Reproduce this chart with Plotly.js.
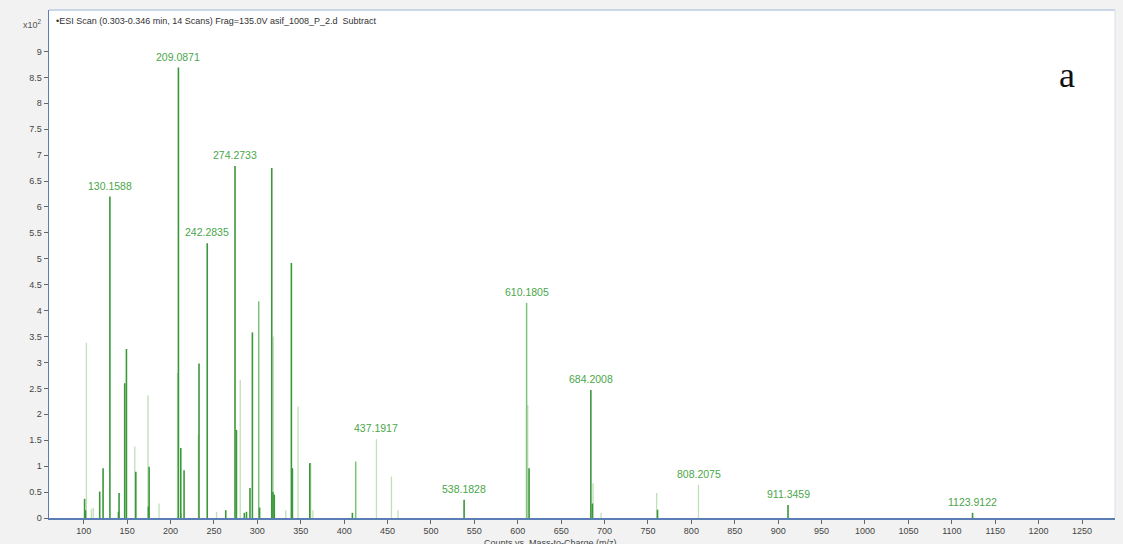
<!DOCTYPE html>
<html>
<head>
<meta charset="utf-8">
<script src="https://cdn.plot.ly/plotly-3.0.1.min.js"></script>
<style>
html,body{margin:0;padding:0;background:#f2f2f2;}
#chart{width:1123px;height:544px;}
</style>
</head>
<body>
<div id="chart"></div>
<script>
// Dark (main) peaks: m/z and intensity (x10^2 counts)
const darkMz  = [101.0, 102.0, 118.4, 122.3, 130.1588, 140.0, 140.7, 147.2, 149.2, 160.0, 175.3, 174.5, 209.0871, 211.8, 215.6, 232.8, 242.2835, 263.6, 274.2733, 275.9, 285.0, 287.5, 291.5, 294.3, 302.6, 316.6, 318.0, 319.5, 339.2, 340.4, 360.4, 409.5, 538.1828, 613.0, 684.2008, 686.0, 761.0, 911.3459, 1123.9122];
const darkInt = [0.37, 0.15, 0.51, 0.96, 6.20, 0.12, 0.48, 2.60, 3.26, 0.89, 0.99, 0.22, 8.69, 1.35, 0.92, 2.98, 5.30, 0.15, 6.79, 1.70, 0.10, 0.12, 0.58, 3.58, 0.20, 6.75, 0.50, 0.45, 4.92, 0.96, 1.06, 0.10, 0.35, 0.96, 2.47, 0.28, 0.16, 0.25, 0.10];

// Medium peaks
const midMz  = [301.6, 413.3, 610.1805];
const midInt = [4.18, 1.09, 4.15];

// Light (faint) peaks
const lightMz  = [103.1, 108.8, 111.0, 158.8, 174.0, 186.8, 208.0, 212.5, 232.0, 253.0, 280.3, 318.4, 332.7, 346.9, 361.5, 364.0, 437.1917, 454.5, 462.0, 611.5, 686.7, 696.0, 760.0, 808.2075];
const lightInt = [3.38, 0.17, 0.20, 1.38, 2.37, 0.28, 2.80, 0.10, 1.60, 0.12, 2.66, 3.50, 0.15, 2.15, 1.06, 0.15, 1.52, 0.80, 0.15, 2.18, 0.67, 0.10, 0.48, 0.64];

// Labelled peaks
const labelMz   = [130.1588, 209.0871, 242.2835, 274.2733, 437.1917, 538.1828, 610.1805, 684.2008, 808.2075, 911.3459, 1123.9122];
const labelInt  = [6.20, 8.69, 5.30, 6.79, 1.52, 0.35, 4.15, 2.47, 0.64, 0.25, 0.10];
const labelText = ["130.1588", "209.0871", "242.2835", "274.2733", "437.1917", "538.1828", "610.1805", "684.2008", "808.2075", "911.3459", "1123.9122"];

const xTicks = [100,150,200,250,300,350,400,450,500,550,600,650,700,750,800,850,900,950,1000,1050,1100,1150,1200,1250];
const yTicks = [0,0.5,1,1.5,2,2.5,3,3.5,4,4.5,5,5.5,6,6.5,7,7.5,8,8.5,9];
const yTickText = ["0","0.5","1","1.5","2","2.5","3","3.5","4","4.5","5","5.5","6","6.5","7","7.5","8","8.5","9"];

function sticks(mz, inten) {
  const xs = [], ys = [];
  for (let i = 0; i < mz.length; i++) {
    xs.push(mz[i], mz[i], null);
    ys.push(0, inten[i], null);
  }
  return {xs, ys};
}

const L = sticks(lightMz, lightInt);
const M = sticks(midMz, midInt);
const D = sticks(darkMz, darkInt);

const traces = [
  {type:'scatter', mode:'lines', x:L.xs, y:L.ys, line:{color:'#bfe0b8', width:1.3}, hoverinfo:'skip'},
  {type:'scatter', mode:'lines', x:M.xs, y:M.ys, line:{color:'#7cc27a', width:1.5}, hoverinfo:'skip'},
  {type:'scatter', mode:'lines', x:D.xs, y:D.ys, line:{color:'#3a983a', width:1.6}, hoverinfo:'skip'}
];

const annotations = labelMz.map((m, i) => ({
  x: m, y: labelInt[i], xref:'x', yref:'y', text: labelText[i],
  showarrow:false, yanchor:'bottom', yshift:3,
  font:{family:'Liberation Sans, Arial, sans-serif', size:10.5, color:'#4aa64a'}
}));

annotations.push(
  {xref:'paper', yref:'paper', x:0, y:1, xanchor:'left', yanchor:'top', xshift:5, yshift:-4,
   text:'•ESI Scan (0.303-0.346 min, 14 Scans) Frag=135.0V asif_1008_P_2.d  Subtract', showarrow:false,
   font:{family:'Liberation Sans, Arial, sans-serif', size:9, color:'#333'}},
  {xref:'paper', yref:'paper', x:0, y:1, xanchor:'right', yanchor:'top', xshift:-5, yshift:-6,
   text:'x10<sup>2</sup>', showarrow:false,
   font:{family:'Liberation Sans, Arial, sans-serif', size:9, color:'#555'}},
  {xref:'paper', yref:'paper', x:0.955, y:0.872, xanchor:'center', yanchor:'middle',
   text:'a', showarrow:false,
   font:{family:'Liberation Serif, Times New Roman, serif', size:36, color:'#111'}},
  {xref:'paper', yref:'paper', x:0.47, y:0, xanchor:'center', yanchor:'top', yshift:-18,
   text:'Counts vs. Mass-to-Charge (m/z)', showarrow:false,
   font:{family:'Liberation Sans, Arial, sans-serif', size:9, color:'#444'}}
);

const layout = {
  width:1123, height:544,
  margin:{l:49, r:8, t:10, b:26},
  paper_bgcolor:'#f2f2f2',
  plot_bgcolor:'#ffffff',
  showlegend:false,
  xaxis:{
    range:[60, 1288], tickvals:xTicks, ticktext:xTicks.map(String),
    showgrid:false, zeroline:false, showline:true, linecolor:'#5a7db5', linewidth:1.5,
    ticks:'outside', ticklen:4, tickcolor:'#666',
    tickfont:{family:'Liberation Sans, Arial, sans-serif', size:9, color:'#444'},
    mirror:false
  },
  yaxis:{
    range:[0, 9.8], tickvals:yTicks, ticktext:yTickText,
    showgrid:false, zeroline:false, showline:true, linecolor:'#5a7db5', linewidth:1.5,
    ticks:'outside', ticklen:4, tickcolor:'#666',
    tickfont:{family:'Liberation Sans, Arial, sans-serif', size:9, color:'#444'}
  },
  shapes:[
    {type:'line', xref:'paper', yref:'paper', x0:0, x1:1, y0:1, y1:1, line:{color:'#9fb4d6', width:1}},
    {type:'line', xref:'paper', yref:'paper', x0:1, x1:1, y0:0, y1:1, line:{color:'#d5deeb', width:1}}
  ],
  annotations: annotations
};

Plotly.newPlot('chart', traces, layout, {staticPlot:true, displayModeBar:false});
</script>
</body>
</html>
